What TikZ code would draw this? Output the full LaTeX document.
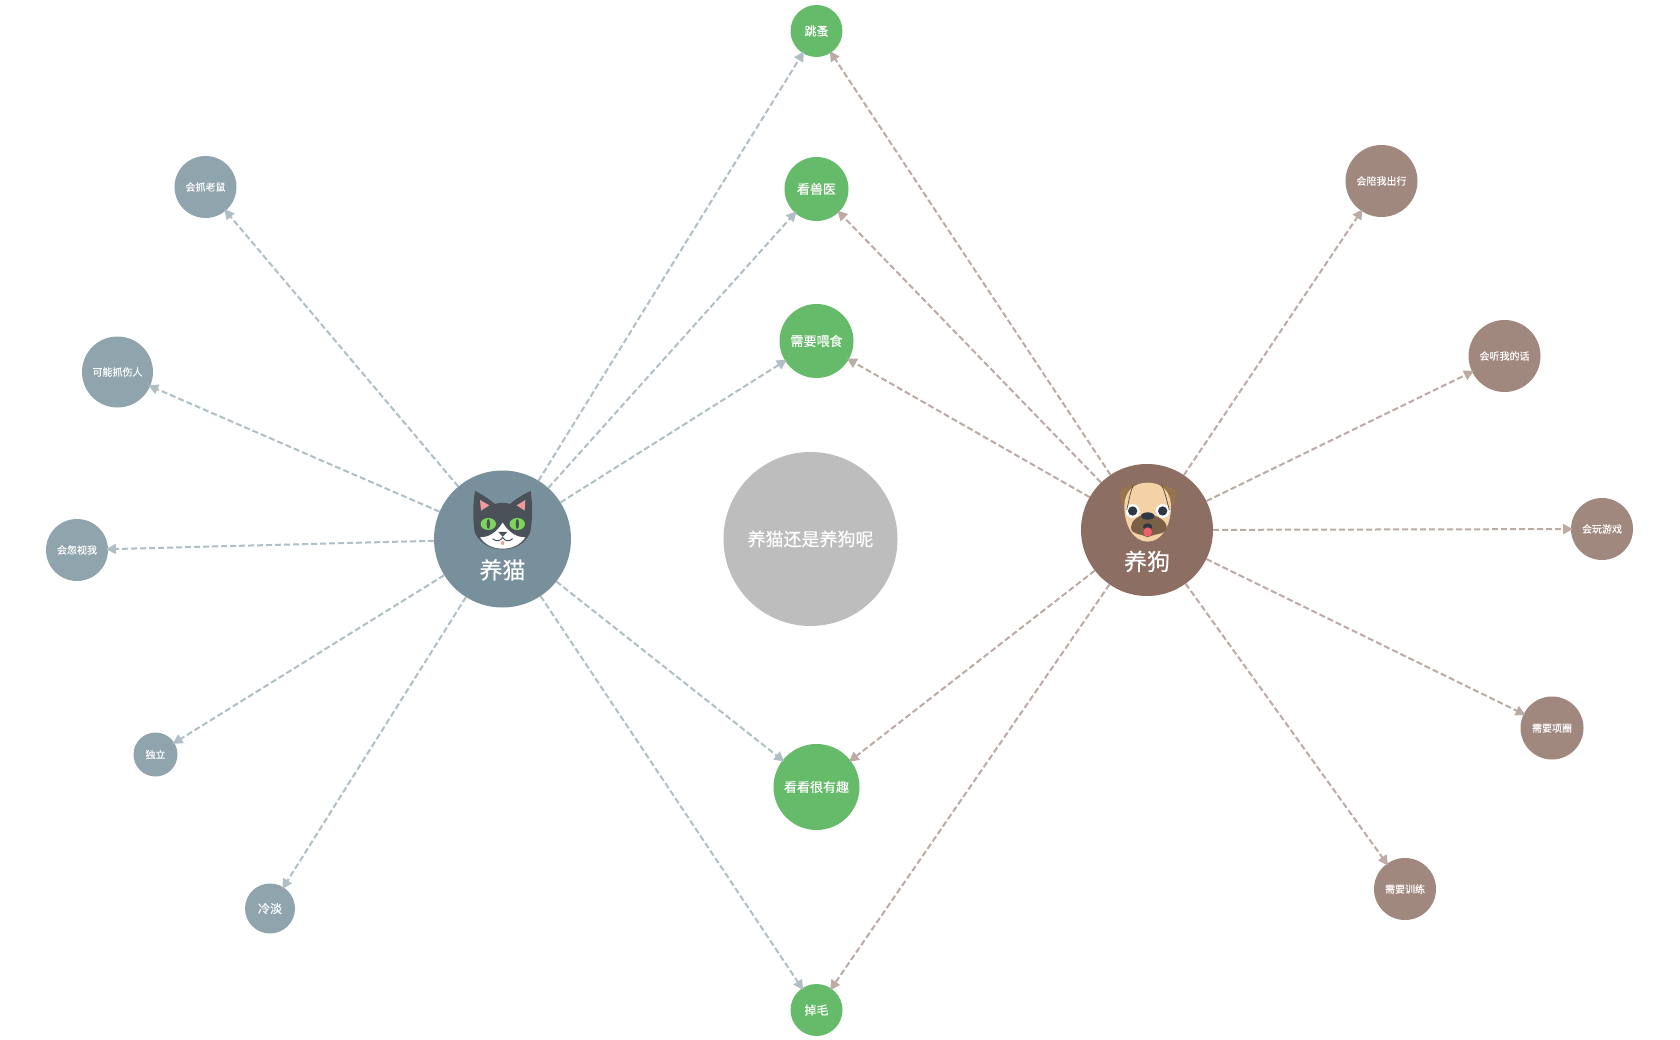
\documentclass[tikz,border=0pt]{standalone}
\usepackage{fontspec}
\setmainfont{Noto Sans CJK SC}[FakeBold=0.15]
\usetikzlibrary{arrows.meta,positioning}
\definecolor{catroot}{HTML}{78909C}
\definecolor{catleaf}{HTML}{90A4AE}
\definecolor{catline}{HTML}{B0BEC5}
\definecolor{dogroot}{HTML}{8D6E63}
\definecolor{dogleaf}{HTML}{A1887F}
\definecolor{dogline}{HTML}{BCAAA4}
\definecolor{shared}{HTML}{66BB6A}
\definecolor{hub}{HTML}{BDBDBD}
\definecolor{catfur}{HTML}{4B5159}
\definecolor{catear}{HTML}{EE9A9C}
\definecolor{cateye}{HTML}{7CD65A}
\definecolor{dogear}{HTML}{97734E}
\definecolor{dogskin}{HTML}{F5D1A6}
\definecolor{dogsnout}{HTML}{7B6047}
\definecolor{dogdark}{HTML}{2F3842}
\definecolor{dogtongue}{HTML}{EE5F6C}
\tikzset{
	blob/.style={circle, inner sep=0pt, outer sep=0pt, text=white, align=center},
	cattie/.style={blob, fill=catleaf},
	dogtie/.style={blob, fill=dogleaf},
	sharedtie/.style={blob, fill=shared},
	tiny/.style={font=\fontsize{10}{12}\selectfont, text height=8.8pt, text depth=1.2pt},
	small/.style={font=\fontsize{12}{14}\selectfont, text height=10.6pt, text depth=1.4pt},
	mid/.style={font=\fontsize{13}{15}\selectfont, text height=11.4pt, text depth=1.6pt},
	big/.style={font=\fontsize{18}{20}\selectfont, text height=15.8pt, text depth=2.2pt},
	huge/.style={font=\fontsize{23}{25}\selectfont, text height=20.2pt, text depth=2.8pt},
	catedge/.style={draw=catline, -{Triangle[length=10pt,width=10pt,fill=catline]}},
	dogedge/.style={draw=dogline, -{Triangle[length=10pt,width=10pt,fill=dogline]}}
}
\begin{document}
\begin{tikzpicture}[x=1pt,y=-1pt,
		every edge/.style={draw, line width=2pt, dash pattern=on 6pt off 3pt, shorten >=-2pt}]
	\useasboundingbox (0,0) rectangle (1680,1040);
	% Nodes
	\node (hubnode) [blob, fill=hub, big, minimum size=174pt] at (810.5,539) {养猫还是养狗呢};
	\node (cat) [blob, fill=catroot, minimum size=137pt] at (502.5,539) {};
	\node (dog) [blob, fill=dogroot, minimum size=132pt] at (1147,530) {};
	\node (catname) [text=white, inner sep=0pt, huge] at (502.5,570) {养猫};
	\node (dogname) [text=white, inner sep=0pt, huge] at (1147,561.5) {养狗};
	% Shared
	\node (jump) [sharedtie, small, minimum size=52pt] at (816.5,31) {跳蚤};
	\node (vet) [sharedtie, mid, minimum size=64pt] at (816.5,189) {看兽医};
	\node (feed) [sharedtie, mid, minimum size=74pt] at (816.5,341) {需要喂食};
	\node (fun) [sharedtie, mid, minimum size=86pt] at (816.5,787) {看看很有趣};
	\node (shed) [sharedtie, small, minimum size=52pt] at (816.5,1010) {掉毛};
	% Cat side
	\node (mouse) [cattie, tiny, minimum size=62pt] at (205.5,187) {会抓老鼠};
	\node (scratch) [cattie, tiny, minimum size=71pt] at (117.5,372) {可能抓伤人};
	\node (ignore) [cattie, tiny, minimum size=62pt] at (77,550) {会忽视我};
	\node (alone) [cattie, tiny, minimum size=44pt] at (155.5,754.5) {独立};
	\node (cold) [cattie, small, minimum size=50pt] at (270,908.5) {冷淡};
	% Dog side
	\node (walk) [dogtie, tiny, minimum size=72pt] at (1381.5,181) {会陪我出行};
	\node (obey) [dogtie, tiny, minimum size=72pt] at (1504.5,356) {会听我的话};
	\node (play) [dogtie, tiny, minimum size=62pt] at (1602,529) {会玩游戏};
	\node (collar) [dogtie, tiny, minimum size=63pt] at (1552,728) {需要项圈};
	\node (train) [dogtie, tiny, minimum size=62pt] at (1405,889) {需要训练};
	% Edges
	\draw (cat) edge[catedge] (mouse);
	\draw (cat) edge[catedge] (scratch);
	\draw (cat) edge[catedge] (ignore);
	\draw (cat) edge[catedge] (alone);
	\draw (cat) edge[catedge] (cold);
	\draw (cat) edge[catedge] (jump);
	\draw (cat) edge[catedge] (vet);
	\draw (cat) edge[catedge] (feed);
	\draw (cat) edge[catedge] (fun);
	\draw (cat) edge[catedge] (shed);
	\draw (dog) edge[dogedge] (jump);
	\draw (dog) edge[dogedge] (vet);
	\draw (dog) edge[dogedge] (feed);
	\draw (dog) edge[dogedge] (fun);
	\draw (dog) edge[dogedge] (shed);
	\draw (dog) edge[dogedge] (walk);
	\draw (dog) edge[dogedge] (obey);
	\draw (dog) edge[dogedge] (play);
	\draw (dog) edge[dogedge] (collar);
	\draw (dog) edge[dogedge] (train);
	% Cat face
	\begin{scope}[shift={(420,450)},x=0.3333pt,y=-0.3333pt]
		\fill[catfur] (165,123) .. controls (158,160) and (158,215) .. (165,250)
			.. controls (185,285) and (215,298) .. (248,298)
			.. controls (281,298) and (311,285) .. (330,250)
			.. controls (338,215) and (338,160) .. (332,123)
			.. controls (315,130) and (290,145) .. (270,162)
			.. controls (255,157) and (240,157) .. (225,162)
			.. controls (205,145) and (180,130) .. (165,123) -- cycle;
		\fill[white] (180,262) .. controls (205,262) and (228,250) .. (248,218)
			.. controls (268,250) and (291,262) .. (316,262)
			.. controls (298,288) and (272,296) .. (248,296)
			.. controls (224,296) and (198,288) .. (180,262) -- cycle;
		\fill[catfur] (235,246) -- (262,246) -- (248,260) -- cycle;
		\fill[catear] (180,150) -- (208,166) -- (183,182) -- cycle;
		\fill[catear] (316,150) -- (290,166) -- (314,182) -- cycle;
		\fill[cateye] (205,222) ellipse (23 and 18);
		\fill[cateye] (292,222) ellipse (23 and 18);
		\fill[catfur] (205,222) ellipse (5 and 15);
		\fill[catfur] (292,222) ellipse (5 and 15);
		\draw[catfur, line width=1pt] (218,266) .. controls (228,276) and (242,274) .. (248,262)
			.. controls (254,274) and (268,276) .. (278,266);
		\fill[catear] (248,279) ellipse (5 and 6);
	\end{scope}
	% Dog face
	\begin{scope}[shift={(1070,450)},x=0.3333pt,y=-0.3333pt]
		\fill[dogear] (190,105) .. controls (170,108) and (155,115) .. (147,125)
			.. controls (148,145) and (155,165) .. (168,182) -- cycle;
		\fill[dogear] (275,105) .. controls (295,108) and (312,115) .. (320,125)
			.. controls (318,145) and (310,165) .. (298,182) -- cycle;
		\fill[dogskin] (233,98) .. controls (190,98) and (163,125) .. (163,170)
			.. controls (163,225) and (190,275) .. (233,275)
			.. controls (276,275) and (303,225) .. (303,170)
			.. controls (303,125) and (276,98) .. (233,98) -- cycle;
		\fill[dogsnout] (233,192) .. controls (205,195) and (183,212) .. (183,232)
			.. controls (185,255) and (205,248) .. (233,262)
			.. controls (261,248) and (288,255) .. (290,232)
			.. controls (290,212) and (261,195) .. (233,192) -- cycle;
		\fill[white] (188,183) circle (21);
		\fill[white] (278,183) circle (21);
		\fill[dogdark] (188,183) circle (14);
		\fill[dogdark] (278,183) circle (14);
		\fill[dogdark] (233,198) ellipse (20 and 11);
		\fill[dogdark] (233,230) ellipse (14 and 10);
		\fill[dogtongue] (233,246) ellipse (13 and 14);
		\draw[dogdark!70!dogear, line width=0.7pt] (190,106) .. controls (180,125) and (178,150) .. (170,180);
		\draw[dogdark!70!dogear, line width=0.7pt] (275,106) .. controls (285,125) and (290,150) .. (298,180);
	\end{scope}
\end{tikzpicture}
\end{document}
